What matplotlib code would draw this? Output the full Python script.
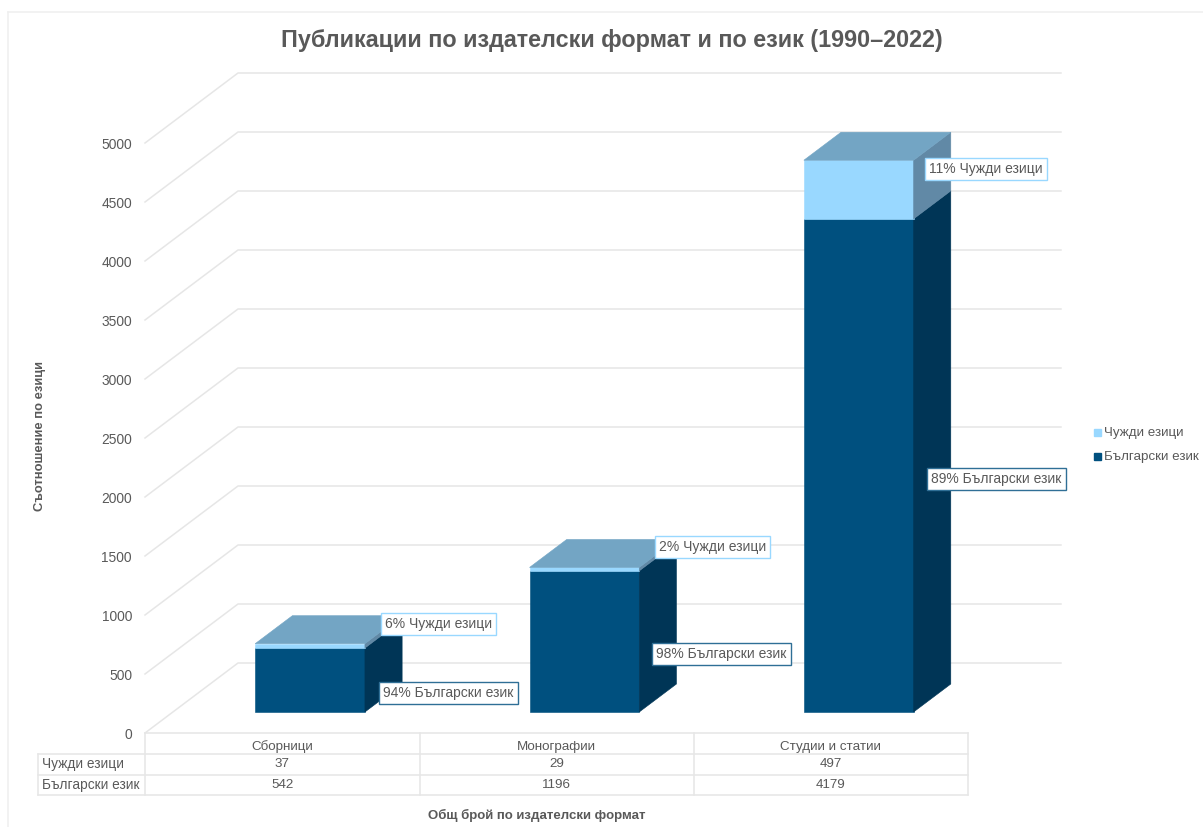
import matplotlib
matplotlib.use("Agg")
import matplotlib.pyplot as plt

plt.rcParams['font.family'] = ['Liberation Sans', 'DejaVu Sans']

# Data
categories = ["Сборници", "Монографии", "Студии и статии"]
foreign = [37, 29, 497]
bulgarian = [542, 1196, 4179]
foreign_pct = ["6%", "2%", "11%"]
bulgarian_pct = ["94%", "98%", "89%"]
yticks = [0, 500, 1000, 1500, 2000, 2500, 3000, 3500, 4000, 4500, 5000]

W, H = 1203, 827
TEXT = "#595959"
GRID = "#e6e6e6"
DARK = "#00507f"
DARK_SIDE = "#003556"
LIGHT = "#99d8ff"
LIGHT_SIDE = "#6189a6"
TOP = "#73a5c4"

fig = plt.figure(figsize=(W / 100, H / 100), dpi=100)


def px(x, y):
    return x / W, 1 - y / H


# the axes is the front plane of the 3d box, depth is faked with a shear
left, right, y0, y5000 = 145, 968, 733, 143
ax = fig.add_axes([left / W, 1 - y0 / H, (right - left) / W, (y0 - y5000) / H])
ax.set_xlim(0, 3)
ax.set_ylim(0, 5000)
ax.axis("off")

DX = 93 / ((right - left) / 3)
DY = 70 / ((y0 - y5000) / 5000)


def shear(x, v, d):
    return x + d * DX, v + d * DY


def quad(points, color, z):
    pts = [shear(*p) for p in points]
    ax.fill([p[0] for p in pts], [p[1] for p in pts], color=color, lw=0.4, zorder=z, clip_on=False)


# back wall and left wall gridlines
for t in yticks:
    x1, y1 = shear(0, t, 0)
    x2, y2 = shear(0, t, 1)
    x3, y3 = shear(3, t, 1)
    ax.plot([x1, x2, x3], [y1, y2, y3], color=GRID, lw=1.1, zorder=1, clip_on=False)
    fig.text(*px(132, ax.transData.transform((0, t))[1] * -1 + H + 2), str(t), ha="right", va="center",
             fontsize=9.9, color=TEXT)

# bars: 0.4 wide, 0.4 deep, centred in the category cell
for i in range(3):
    a, b = i + 0.3, i + 0.7
    d1, d2 = 0.3, 0.7
    v1 = bulgarian[i]
    v2 = bulgarian[i] + foreign[i]
    z = 3 + i
    quad([(a, 0, d1), (b, 0, d1), (b, v1, d1), (a, v1, d1)], DARK, z)
    quad([(b, 0, d1), (b, 0, d2), (b, v1, d2), (b, v1, d1)], DARK_SIDE, z)
    quad([(a, v1, d1), (b, v1, d1), (b, v2, d1), (a, v2, d1)], LIGHT, z)
    quad([(b, v1, d1), (b, v1, d2), (b, v2, d2), (b, v2, d1)], LIGHT_SIDE, z)
    quad([(a, v2, d1), (b, v2, d1), (b, v2, d2), (a, v2, d2)], TOP, z)


# data table under the plot
def hline(y, x1, x2, c=GRID):
    fig.add_artist(plt.Line2D([x1 / W, x2 / W], [1 - y / H, 1 - y / H], color=c, lw=1.1))


def vline(x, y1, y2, c=GRID):
    fig.add_artist(plt.Line2D([x / W, x / W], [1 - y1 / H, 1 - y2 / H], color=c, lw=1.1))


hline(733, 145, 968)
hline(754, 38, 968)
hline(775, 38, 968)
hline(795, 38, 968)
vline(38, 754, 795)
for x in [145, 419.5, 694, 968]:
    vline(x, 733, 795)

for i in range(3):
    cx = left + (i + 0.5) * (right - left) / 3
    fig.text(*px(cx, 747), categories[i], ha="center", va="center", fontsize=9.6, color=TEXT)
    fig.text(*px(cx, 764), str(foreign[i]), ha="center", va="center", fontsize=9.6, color=TEXT)
    fig.text(*px(cx, 785), str(bulgarian[i]), ha="center", va="center", fontsize=9.6, color=TEXT)
fig.text(*px(42, 764), "Чужди езици", ha="left", va="center", fontsize=9.8, color=TEXT)
fig.text(*px(42, 785), "Български език", ha="left", va="center", fontsize=9.8, color=TEXT)

# callouts
foreign_pos = [(385, 624), (659, 547), (929, 169)]
bulgarian_pos = [(383, 693), (656, 654), (931, 479)]
for i in range(3):
    fig.text(*px(*foreign_pos[i]), foreign_pct[i] + " Чужди езици", ha="left", va="center",
             fontsize=10, color=TEXT, zorder=10,
             bbox=dict(boxstyle="square,pad=0.3", fc="white", ec=LIGHT, lw=1.0))
    fig.text(*px(*bulgarian_pos[i]), bulgarian_pct[i] + " Български език", ha="left", va="center",
             fontsize=10, color=TEXT, zorder=10,
             bbox=dict(boxstyle="square,pad=0.3", fc="white", ec="#2f6f96", lw=1.0))

# titles
fig.text(*px(612, 40), "Публикации по издателски формат и по език (1990–2022)", ha="center", va="center",
         fontsize=16.8, fontweight="bold", color=TEXT)
fig.text(*px(40, 436), "Съотношение по езици", rotation=90, ha="center", va="center",
         fontsize=9.4, fontweight="bold", color=TEXT)
fig.text(*px(537, 815), "Общ брой по издателски формат", ha="center", va="center",
         fontsize=9.5, fontweight="bold", color=TEXT)

# legend
for y, c, label in [(432, LIGHT, "Чужди езици"), (456, DARK, "Български език")]:
    fig.patches.append(plt.Rectangle((1094 / W, 1 - (y + 3.5) / H), 7 / W, 7 / H, color=c,
                                     transform=fig.transFigure, figure=fig))
    fig.text(*px(1104, y + 1), label, ha="left", va="center", fontsize=9.6, color=TEXT)

# faint frame of the screenshot
hline(12, 8, 1203, "#efefef")
vline(8, 12, 827, "#efefef")

fig.savefig("out.png", dpi=100)
